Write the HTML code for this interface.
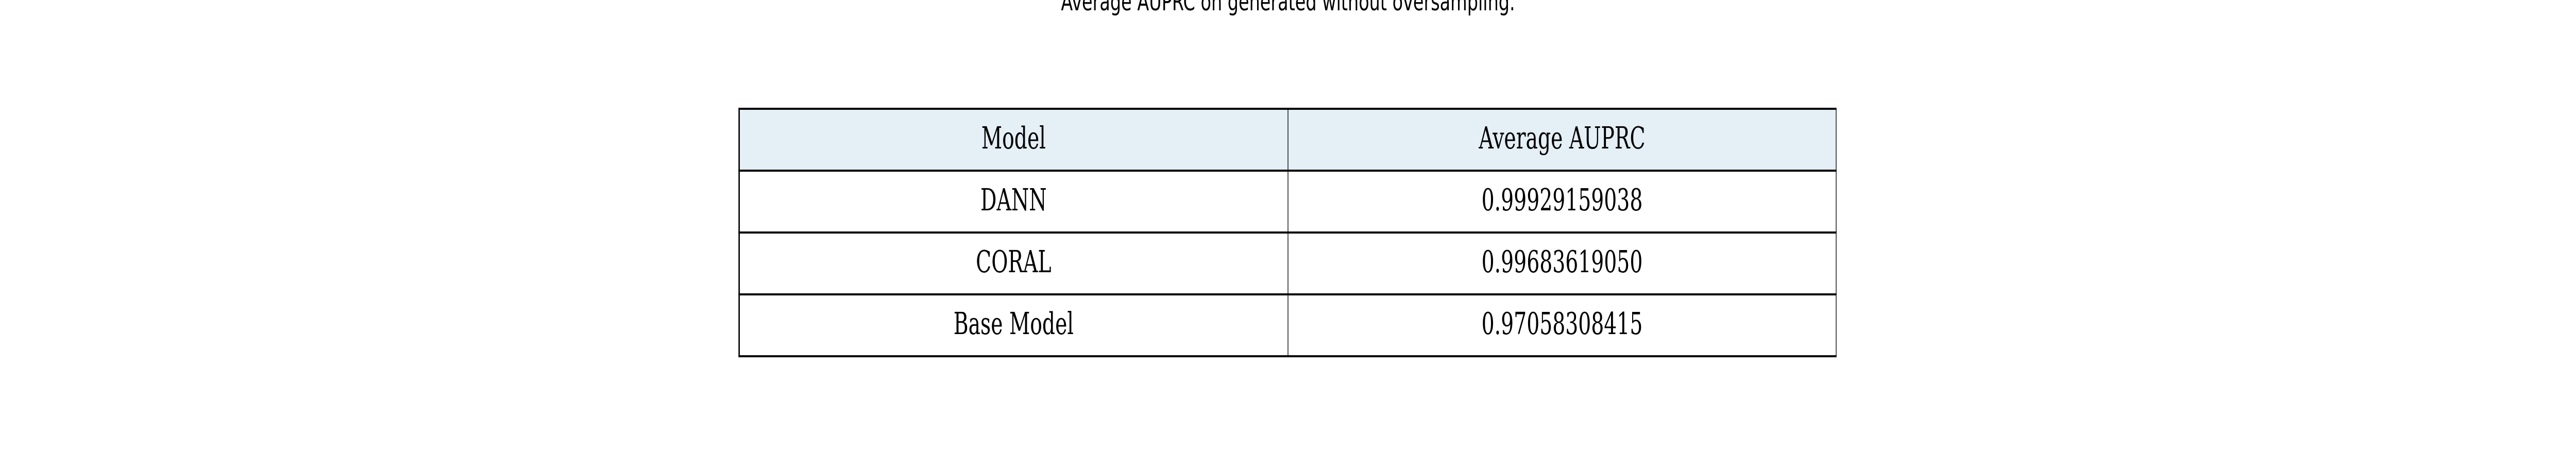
<!DOCTYPE html>
<html><head><meta charset="utf-8"><style>
html,body{margin:0;padding:0;background:#fff;width:100%;height:100%;overflow:hidden;}
svg{display:block;width:100vw;height:100vh;}
</style></head><body>
<svg viewBox="0 0 7500 900" preserveAspectRatio="none" xmlns="http://www.w3.org/2000/svg">
<text x="3750" y="20" text-anchor="middle" font-family="DejaVu Sans, Liberation Sans, sans-serif" font-size="48" textLength="1322" lengthAdjust="spacingAndGlyphs">Average AUPRC on generated without oversampling.</text>
<g id="tbl"></g>
</svg>
<script>
const headers = ["Model", "Average AUPRC"];
const models = ["DANN", "CORAL", "Base Model"];
const scores = ["0.99929159038", "0.99683619050", "0.97058308415"];

(function () {
  const g = document.getElementById('tbl');
  const NS = 'http://www.w3.org/2000/svg';
  const tLeft = 2152, tMid = 3750, tRight = 5346, tTop = 211, rowH = 120;
  const rows = [headers].concat(models.map((m, i) => [m, scores[i]]));
  function mk(tag, attrs) { const e = document.createElementNS(NS, tag); for (const k in attrs) e.setAttribute(k, attrs[k]); g.appendChild(e); return e; }
  rows.forEach((r, i) => {
    const y = tTop + i * rowH;
    const bg = mk('rect', {x: tLeft, y: y, width: tRight - tLeft, height: rowH, fill: i === 0 ? '#e4eff6' : '#ffffff'});
    
    
    [tLeft, tMid].forEach((cx, j) => {
      const cr = j === 0 ? tMid : tRight;
      const t = mk('text', {x: (cx + cr) / 2, y: y + 77, 'text-anchor': 'middle', 'font-family': 'DejaVu Serif, Liberation Serif, serif', 'font-size': 59});
      t.textContent = r[j];
      
      
    });
  });
  const n = rows.length;
  for (let i = 0; i <= n; i++) {
    const l = mk('line', {x1: tLeft - 2, x2: tRight + 1, y1: tTop + i * rowH, y2: tTop + i * rowH, stroke: '#000', 'stroke-width': 4});
    
    
  }
  [[tLeft, 4], [tMid, 2], [tRight, 2]].forEach(([x, w]) => {
    const l = mk('line', {x1: x, x2: x, y1: tTop, y2: tTop + n * rowH, stroke: '#000', 'stroke-width': w});
    
    
  });
})();
</script>
</body></html>
